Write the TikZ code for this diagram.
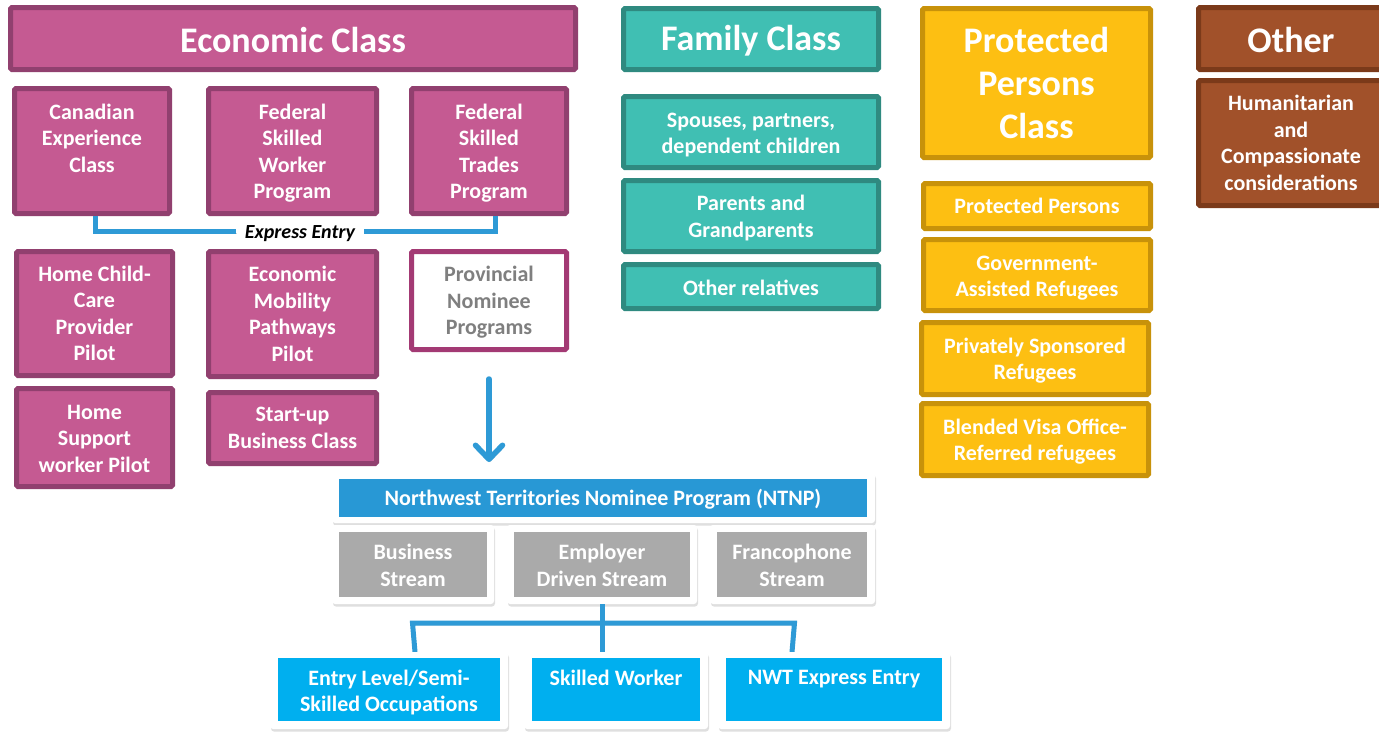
\documentclass[tikz,border=0pt]{standalone}
\usepackage{fontspec}
\setmainfont{Carlito}
\usetikzlibrary{arrows.meta,shadows,calc}
\definecolor{econF}{HTML}{C55A92}
\definecolor{econD}{HTML}{91406F}
\definecolor{pnpD}{HTML}{A33A74}
\definecolor{tealF}{HTML}{40BFB3}
\definecolor{tealD}{HTML}{2F8A80}
\definecolor{yelF}{HTML}{FDBF12}
\definecolor{yelD}{HTML}{C8920A}
\definecolor{brnF}{HTML}{A1512A}
\definecolor{brnD}{HTML}{7B3A1A}
\definecolor{ntnpB}{HTML}{2898D5}
\definecolor{lowB}{HTML}{00AFEF}
\definecolor{greyF}{HTML}{AAAAAA}
\definecolor{greyT}{HTML}{7F7F7F}
\definecolor{eeB}{HTML}{2E9AD6}
% #1 box style, #2 text style, #3 name, #4-#7 corners, #8 text shift, #9 text
\newcommand{\mybox}[9]{%
  \pgfmathsetmacro{\cx}{(#4+#6)/2}\pgfmathsetmacro{\cy}{(#5+#7)/2}%
  \pgfmathsetmacro{\ty}{\cy+#8}%
  \pgfmathsetmacro{\ww}{#6-#4-5}\pgfmathsetmacro{\hh}{#7-#5-5}%
  \node[#1, minimum width=\ww pt, minimum height=\hh pt] (#3) at (\cx,\cy) {};
  \node[#2] (#3-t) at (\cx,\ty) {#9};}
\newcommand{\myfill}[9]{%
  \pgfmathsetmacro{\cx}{(#4+#6)/2}\pgfmathsetmacro{\cy}{(#5+#7)/2}%
  \pgfmathsetmacro{\ty}{\cy+#8}%
  \pgfmathsetmacro{\ww}{#6-#4}\pgfmathsetmacro{\hh}{#7-#5}%
  \node[#1, minimum width=\ww pt, minimum height=\hh pt] (#3) at (\cx,\cy) {};
  \node[#2] (#3-t) at (\cx,\ty) {#9};}
\tikzset{
  base/.style={rectangle, line width=5pt, inner sep=0pt, rounded corners=1.5pt},
  txt/.style={align=center, text=white, inner sep=0pt,
    font=\bfseries\fontsize{22}{26.5}\selectfont},
  gtxt/.style={txt, text=greyT},
  htxt/.style={txt, font=\bfseries\fontsize{36}{43}\selectfont},
  itxt/.style={txt, font=\bfseries\fontsize{22}{26.5}\selectfont},
  econ/.style={base, fill=econF, draw=econD},
  pnpbox/.style={base, fill=white, draw=pnpD},
  fam/.style={base, fill=tealF, draw=tealD},
  prot/.style={base, fill=yelF, draw=yelD},
  oth/.style={base, fill=brnF, draw=brnD},
  card/.style={rectangle, fill=white, draw=none, inner sep=0pt, rounded corners=3pt,
    drop shadow={shadow xshift=1pt, shadow yshift=-2.5pt, opacity=0.25}},
  inbox/.style={rectangle, draw=none, inner sep=0pt},
  ntnpbox/.style={inbox, fill=ntnpB},
  strbox/.style={inbox, fill=greyF},
  lowbox/.style={inbox, fill=lowB},
  lshadow/.style={preaction={draw=black, opacity=0.18, transform canvas={xshift=1pt, yshift=-2.5pt}}},
  eeline/.style={draw=eeB, line width=5pt, lshadow},
  brline/.style={draw=eeB, line width=5pt, lshadow},
  arrline/.style={draw=eeB, line width=5.5pt, line cap=round, lshadow,
    -{Straight Barb[length=14pt, width=27pt, line width=5.5pt, round]}},
}
\begin{document}
\begin{tikzpicture}[x=1pt, y=-1pt]
\clip (0,0) rectangle (1379,732);
\fill[white] (0,0) rectangle (1379,732);
% Economic class
\mybox{econ}{htxt}{econ}{8}{5}{578}{72}{1}{Economic Class}
\mybox{econ}{txt}{cec}{12}{86}{172}{216}{4}{Canadian\\Experience\\Class\\\strut}
\mybox{econ}{txt}{fswp}{206}{86}{379}{216}{2}{Federal\\Skilled\\Worker\\Program}
\mybox{econ}{txt}{fstp}{409}{86}{569}{216}{2}{Federal\\Skilled\\Trades\\Program}
\mybox{econ}{txt}{hcc}{14}{249}{175}{378}{0}{Home Child-\\Care\\Provider\\Pilot}
\mybox{econ}{txt}{emp}{206}{249}{379}{379}{0}{Economic\\Mobility\\Pathways\\Pilot}
\mybox{pnpbox}{gtxt}{pnp}{409}{249}{569}{352}{2}{Provincial\\Nominee\\Programs}
\mybox{econ}{txt}{hsw}{14}{386}{175}{489}{1}{Home\\Support\\worker Pilot}
\mybox{econ}{txt}{sub}{206}{390}{379}{466}{0}{Start-up\\Business Class}
% Express entry bracket
\node[font=\bfseries\itshape\fontsize{20}{22}\selectfont, inner xsep=9pt, inner ysep=0pt] (ee) at (300,234) {Express Entry};
\coordinate (eeY) at (300,231);
\draw[eeline] ([xshift=3pt]cec.south) |- (ee.west |- eeY);
\draw[eeline] ([xshift=6pt]fstp.south) |- (ee.east |- eeY);
% Family class
\mybox{fam}{htxt}{fam}{621}{6}{881}{72}{2}{Family Class}
\mybox{fam}{txt}{sp}{621}{94}{881}{170}{3}{Spouses, partners,\\dependent children}
\mybox{fam}{txt}{par}{621}{178}{881}{254}{2}{Parents and\\Grandparents}
\mybox{fam}{txt}{orel}{621}{262}{881}{311}{1}{Other relatives}
% Protected persons
\mybox{prot}{htxt}{prot}{920}{6}{1153}{160}{0}{Protected\\Persons\\Class}
\mybox{prot}{txt}{pp}{921}{181}{1153}{231}{0}{Protected Persons}
\mybox{prot}{txt}{gar}{921}{237}{1153}{313}{3}{Government-\\Assisted Refugees}
\mybox{prot}{txt}{psr}{919}{320}{1151}{397}{2}{Privately Sponsored\\Refugees}
\mybox{prot}{txt}{bvor}{919}{401}{1151}{478}{2}{Blended Visa Office-\\Referred refugees}
% Other
\mybox{oth}{htxt}{oth}{1196}{5}{1386}{72}{1}{Other}
\mybox{oth}{txt}{hc}{1196}{78}{1386}{208}{0}{Humanitarian\\and\\Compassionate\\considerations}
% NTNP
\myfill{card}{itxt}{ntnpcard}{332}{473}{875}{523}{0}{}
\myfill{ntnpbox}{itxt}{ntnp}{339}{479}{867}{517}{1}{Northwest Territories Nominee Program (NTNP)}
\myfill{card}{itxt}{buscard}{332}{525}{494}{604}{0}{}
\myfill{strbox}{itxt}{bus}{339}{532}{487}{597}{1}{Business\\Stream}
\myfill{card}{itxt}{empcard}{507}{525}{697}{604}{0}{}
\myfill{strbox}{itxt}{eds}{514}{532}{690}{597}{1}{Employer\\Driven Stream}
\myfill{card}{itxt}{frcard}{710}{525}{875}{604}{0}{}
\myfill{strbox}{itxt}{frs}{717}{532}{867}{597}{1}{Francophone\\Stream}
% arrow PNP -> NTNP
\coordinate (arrEnd) at (489,462);
\draw[arrline] ([yshift=-27pt]pnp.south) -- (arrEnd);
% NTNP bracket
\coordinate (brL) at (415,623);
\coordinate (brR) at (792,623);
\coordinate (brM) at (602,623);
\coordinate (brBot) at (602,652);
\draw[brline] (empcard.south -| brM) -- (brM);
\draw[brline] (brL |- brBot) -- ([xshift=-2.5pt]brL) -- ([xshift=2.5pt]brR) -- (brR |- brBot);
\draw[brline] (brM) -- (brBot);
% lower cards
\myfill{card}{itxt}{entcard}{270}{652}{508}{729}{0}{}
\myfill{lowbox}{itxt}{ent}{278}{658}{500}{721}{3}{Entry Level/Semi-\\Skilled Occupations}
\myfill{card}{itxt}{skcard}{524}{652}{708}{729}{0}{}
\myfill{lowbox}{itxt}{sk}{532}{658}{700}{721}{5}{Skilled Worker\\\strut}
\myfill{card}{itxt}{nwtcard}{718}{652}{950}{729}{0}{}
\myfill{lowbox}{itxt}{nwt}{726}{658}{942}{721}{5}{NWT Express Entry\\\strut}
\end{tikzpicture}
\end{document}
